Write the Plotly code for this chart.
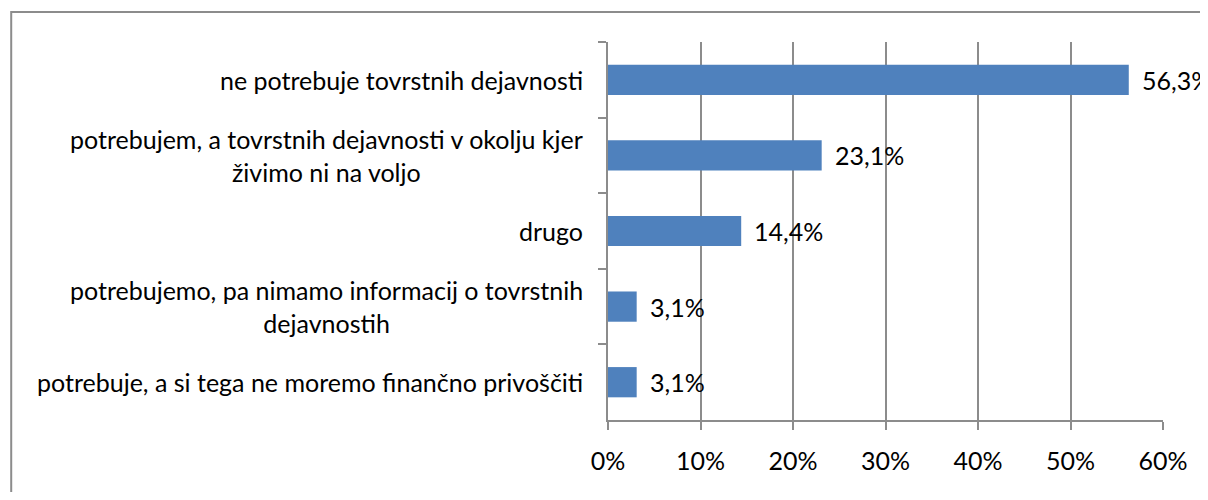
import plotly.graph_objects as go

categories = [
    "ne potrebuje tovrstnih dejavnosti",
    "potrebujem, a tovrstnih dejavnosti v okolju kjer<br>živimo ni na voljo",
    "drugo",
    "potrebujemo, pa nimamo informacij o tovrstnih<br>dejavnostih",
    "potrebuje, a si tega ne moremo finančno privoščiti",
]
values = [56.3, 23.1, 14.4, 3.1, 3.1]
value_labels = ["56,3%", "23,1%", "14,4%", "3,1%", "3,1%"]
tick_vals = [0, 10, 20, 30, 40, 50, 60]
tick_text = ["0%", "10%", "20%", "30%", "40%", "50%", "60%"]

font = "Lato, 'Open Sans', sans-serif"
fsize = 25
grid = "#8c8c8c"

fig = go.Figure(go.Bar(
    x=values, y=categories, orientation="h",
    marker=dict(color="#4F81BD", line=dict(width=0)),
    hoverinfo="skip",
))

# data labels next to the bars
for c, v, t in zip(categories, values, value_labels):
    fig.add_annotation(x=v, y=c, text=t, showarrow=False, xanchor="left",
                       xshift=11, font=dict(family=font, size=fsize, color="black"))

# category labels, centred lines like the original
for c in categories:
    fig.add_annotation(x=0, xref="paper", y=c, text=c, showarrow=False,
                       xanchor="right", xshift=-23, align="center",
                       font=dict(family=font, size=fsize, color="black"))

# outer chart border (right and bottom edges fall outside the picture)
fig.add_shape(type="rect", xref="paper", yref="paper",
              x0=-1.0753, x1=1.2, y0=-0.3, y1=1.0794,
              line=dict(color=grid, width=2), layer="below")

# page has an 8px body margin, so keep the figure inside the window
fig.update_layout(
    width=1192, height=484,
    margin=dict(l=600, r=34, t=34, b=72),
    paper_bgcolor="white", plot_bgcolor="white",
    bargap=0.6, showlegend=False,
    font=dict(family=font, size=fsize, color="black"),
)
fig.update_xaxes(
    range=[0, 60], tickvals=tick_vals, ticktext=tick_text,
    showgrid=True, gridcolor=grid, gridwidth=2,
    showline=True, linecolor=grid, linewidth=2,
    ticks="outside", ticklen=8, tickcolor=grid, tickwidth=2,
    ticklabelstandoff=10, zeroline=False,
    tickfont=dict(family=font, size=fsize, color="black"),
)
fig.update_yaxes(
    autorange="reversed", showticklabels=False,
    showline=True, linecolor=grid, linewidth=2,
    ticks="outside", ticklen=8, tickcolor=grid, tickwidth=2,
    tickson="boundaries", showgrid=False, zeroline=False,
)

fig.write_html("out.html")
